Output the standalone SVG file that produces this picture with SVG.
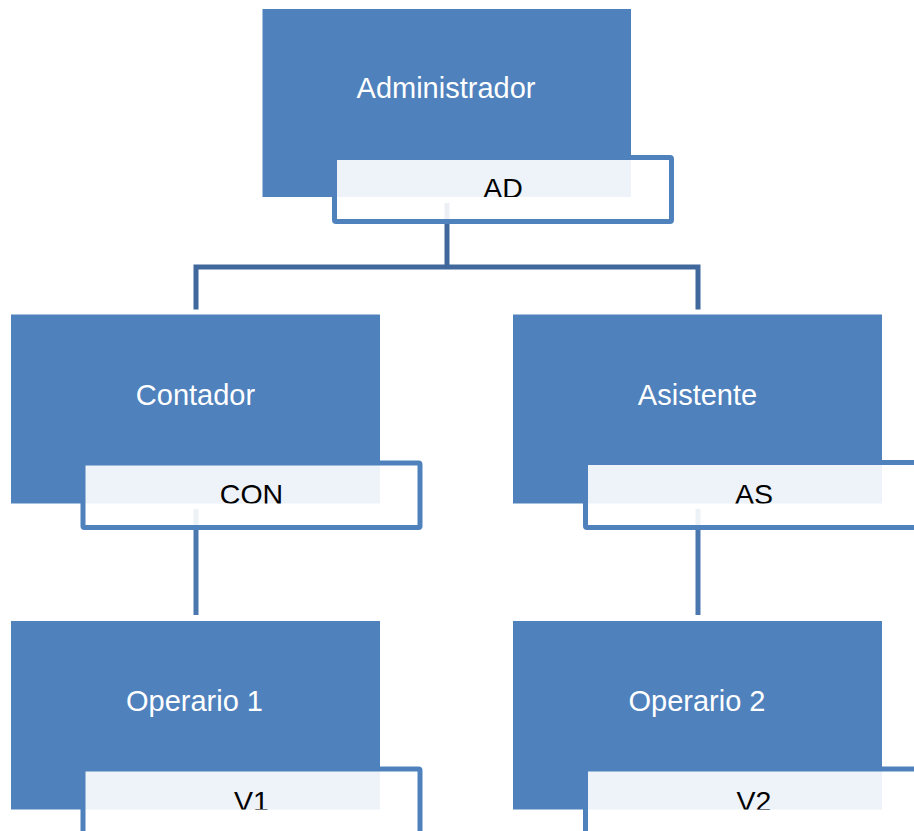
<svg xmlns="http://www.w3.org/2000/svg" width="914" height="831" viewBox="0 0 914 831">
  <style>
    .box { fill: #4F81BD; }
    .tag { fill: #FFFFFF; fill-opacity: 0.9; stroke: #4F81BD; stroke-width: 5; stroke-linejoin: round; }
    .title { font-family: "Liberation Sans", Arial, sans-serif; font-size: 29px; fill: #FFFFFF; text-anchor: middle; }
    .code { font-family: "Liberation Sans", Arial, sans-serif; font-size: 28.5px; fill: #000000; text-anchor: middle; }
    .link-top { fill: none; stroke: #41689C; stroke-width: 5; stroke-linejoin: miter; }
    .link { fill: none; stroke: #4A77AE; stroke-width: 5; }
  </style>
  <defs>
    <clipPath id="clip-ad" clipPathUnits="userSpaceOnUse"><rect x="262.5" y="9" width="368.5" height="188"/></clipPath>
    <clipPath id="clip-con" clipPathUnits="userSpaceOnUse"><rect x="11" y="314.5" width="369" height="189"/></clipPath>
    <clipPath id="clip-as" clipPathUnits="userSpaceOnUse"><rect x="513" y="314.5" width="369" height="189"/></clipPath>
    <clipPath id="clip-v1" clipPathUnits="userSpaceOnUse"><rect x="11" y="621" width="369" height="188.5"/></clipPath>
    <clipPath id="clip-v2" clipPathUnits="userSpaceOnUse"><rect x="513" y="621" width="369" height="188.5"/></clipPath>
  </defs>

  <rect width="914" height="831" fill="#FFFFFF"/>

  <!-- connectors (drawn beneath the nodes) -->
  <g id="connectors">
    <path class="link-top" d="M447,203 V267"/>
    <path class="link-top" d="M196,309.5 V267 H698 V309.5"/>
    <path class="link" d="M196,509 V615"/>
    <path class="link" d="M698,509 V615"/>
  </g>

  <g id="node-administrador">
    <rect class="box" x="262.5" y="9" width="368.5" height="188"/>
    <rect class="tag" x="334.5" y="157.5" width="337" height="64" rx="1.5"/>
    <text class="title" x="446" y="97.5">Administrador</text>
    <text class="code" x="503" y="197.5" clip-path="url(#clip-ad)">AD</text>
  </g>

  <g id="node-contador">
    <rect class="box" x="11" y="314.5" width="369" height="189"/>
    <rect class="tag" x="83" y="463" width="337" height="64.5" rx="1.5"/>
    <text class="title" x="195.5" y="404.5">Contador</text>
    <text class="code" x="251.5" y="504" clip-path="url(#clip-con)">CON</text>
  </g>

  <g id="node-asistente">
    <rect class="box" x="513" y="314.5" width="369" height="189"/>
    <rect class="tag" x="585.5" y="462.5" width="337" height="65" rx="1.5"/>
    <text class="title" x="697.5" y="404.5">Asistente</text>
    <text class="code" x="754" y="504" clip-path="url(#clip-as)">AS</text>
  </g>

  <g id="node-operario-1">
    <rect class="box" x="11" y="621" width="369" height="188.5"/>
    <rect class="tag" x="83" y="769" width="337" height="65" rx="1.5"/>
    <text class="title" x="194.5" y="710.5">Operario 1</text>
    <text class="code" x="251.5" y="810.5" clip-path="url(#clip-v1)">V1</text>
  </g>

  <g id="node-operario-2">
    <rect class="box" x="513" y="621" width="369" height="188.5"/>
    <rect class="tag" x="585.5" y="769" width="337" height="65" rx="1.5"/>
    <text class="title" x="697" y="710.5">Operario 2</text>
    <text class="code" x="754" y="810.5" clip-path="url(#clip-v2)">V2</text>
  </g>
</svg>
